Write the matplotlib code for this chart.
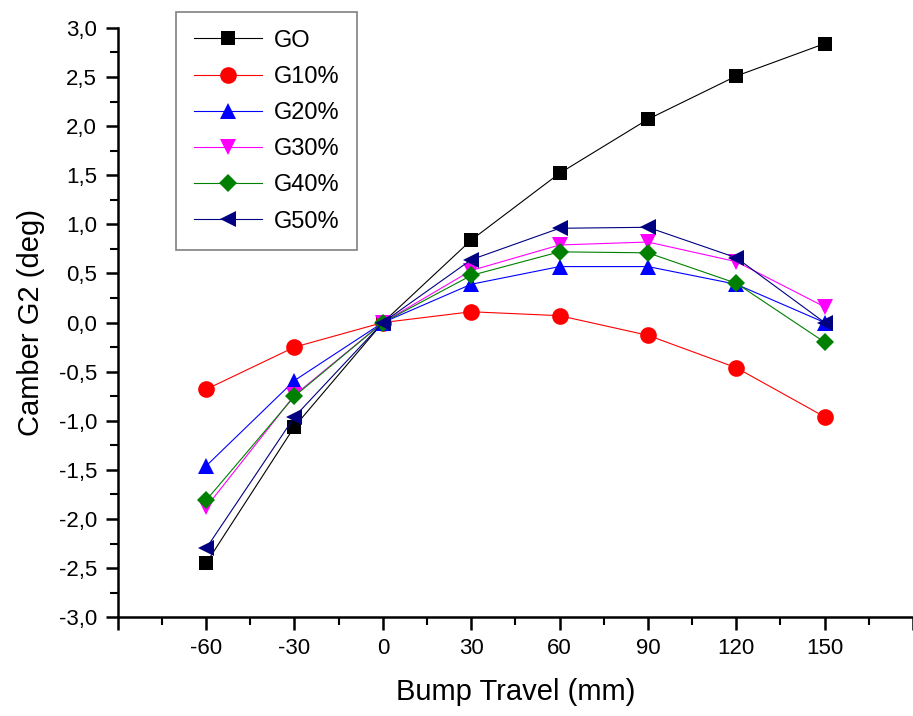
import matplotlib
matplotlib.use('Agg')
import matplotlib.pyplot as plt
from matplotlib import ticker

plt.rcParams['font.family'] = ['Liberation Sans', 'DejaVu Sans']

bump_travel = [-60, -30, 0, 30, 60, 90, 120, 150]

camber_go = [-2.45, -1.06, 0.0, 0.84, 1.52, 2.07, 2.51, 2.84]
camber_g10 = [-0.68, -0.25, 0.0, 0.11, 0.07, -0.13, -0.46, -0.96]
camber_g20 = [-1.46, -0.59, 0.0, 0.39, 0.57, 0.57, 0.39, 0.0]
camber_g30 = [-1.88, -0.74, 0.0, 0.53, 0.79, 0.82, 0.62, 0.16]
camber_g40 = [-1.81, -0.75, 0.0, 0.48, 0.72, 0.71, 0.40, -0.20]
camber_g50 = [-2.30, -0.96, 0.0, 0.64, 0.96, 0.97, 0.66, 0.0]

series = [
    ('GO', camber_go, 'black', 's', 10.5),
    ('G10%', camber_g10, 'red', 'o', 12),
    ('G20%', camber_g20, 'blue', '^', 12),
    ('G30%', camber_g30, 'magenta', 'v', 12),
    ('G40%', camber_g40, 'green', 'D', 9.5),
    ('G50%', camber_g50, 'navy', '<', 12),
]

fig = plt.figure(figsize=(9.13, 7.16), dpi=100)
ax = fig.add_axes([0.129, 0.138, 0.871, 0.823])

for name, values, color, marker, size in series:
    ax.plot(bump_travel, values, color=color, linewidth=0.8, marker=marker,
            markersize=size, markeredgewidth=0, label=name)

ax.set_xlim(-90, 180)
ax.set_ylim(-3.0, 3.0)
ax.spines['top'].set_visible(False)
ax.spines['right'].set_visible(False)
for side in ('left', 'bottom'):
    ax.spines[side].set_linewidth(1.8)

ax.xaxis.set_major_locator(ticker.MultipleLocator(30))
ax.xaxis.set_minor_locator(ticker.MultipleLocator(15))
ax.yaxis.set_major_locator(ticker.MultipleLocator(0.5))
ax.yaxis.set_minor_locator(ticker.MultipleLocator(0.25))
ax.xaxis.set_major_formatter(ticker.FuncFormatter(
    lambda v, p: '' if v < -60 or v > 150 else f'{v:.0f}'))
ax.yaxis.set_major_formatter(ticker.FuncFormatter(
    lambda v, p: f'{v:.1f}'.replace('.', ',')))
ax.tick_params(which='major', direction='out', length=9, width=1.8, labelsize=16, pad=6)
ax.tick_params(which='minor', direction='out', length=5.5, width=1.5)

ax.set_xlabel('Bump Travel (mm)', fontsize=21, labelpad=14)
ax.set_ylabel('Camber G2 (deg)', fontsize=21, labelpad=10)

leg = ax.legend(loc='upper left', bbox_to_anchor=(0.073, 1.027), fontsize=17,
                handlelength=2.9, handletextpad=0.5, labelspacing=0.6,
                borderpad=0.75, fancybox=False, framealpha=1, borderaxespad=0)
leg.get_frame().set_edgecolor('#808080')
leg.get_frame().set_linewidth(1.2)

fig.savefig('out.png', dpi=100, facecolor='white')
